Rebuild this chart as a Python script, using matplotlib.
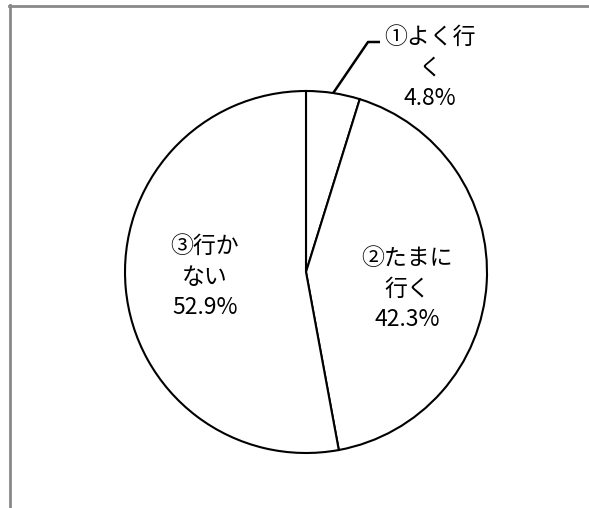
import numpy as np
import matplotlib.pyplot as plt
from matplotlib.lines import Line2D

plt.rcParams['font.family'] = ['Noto Sans CJK JP', 'DejaVu Sans']

# Data
labels = ['①よく行\nく', '②たまに\n行く', '③行か\nない']
shares = [4.8, 42.3, 52.9]

W, H = 589, 508
fig = plt.figure(figsize=(W / 100, H / 100), dpi=100)

# pie centre and radius in pixels
cx, cy, r = 306, 272, 181
ax = fig.add_axes([(cx - r) / W, (H - cy - r) / H, 2 * r / W, 2 * r / H])

wedges, _ = ax.pie(shares, startangle=90, counterclock=False,
                   colors=['white'] * 3,
                   wedgeprops=dict(edgecolor='black', linewidth=1.5))
ax.set_xlim(-1, 1)
ax.set_ylim(-1, 1)
ax.set_aspect('equal')
ax.axis('off')


def px(x, y):
    # pixel position -> data coordinates of the pie axes
    return (x - cx) / r, (cy - y) / r


# label positions (pixels)
label_pos = [(430, 68), (407, 289), (205, 277)]
for lab, val, (x, y) in zip(labels, shares, label_pos):
    tx, ty = px(x, y)
    ax.text(tx, ty, f'{lab}\n{val:.1f}%', ha='center', va='center',
            fontsize=16.5, linespacing=1.4, clip_on=False)

# leader line for the small slice
w = wedges[0]
mid = np.deg2rad((w.theta1 + w.theta2) / 2)
x0, y0 = np.cos(mid), np.sin(mid)
ex, ey = px(368, 42)
fx, fy = px(380, 42)
ax.plot([x0, ex, fx], [y0, ey, fy], color='black', linewidth=1.8,
        clip_on=False, solid_capstyle='butt')

# chart area border (partly cropped)
fig.add_artist(Line2D([10 / W, 10 / W], [0, 1 - 5 / H],
                      transform=fig.transFigure, color='#898989', linewidth=2))
fig.add_artist(Line2D([9 / W, 1], [1 - 6 / H, 1 - 6 / H],
                      transform=fig.transFigure, color='#898989', linewidth=2))

fig.savefig('out.png', dpi=100)
